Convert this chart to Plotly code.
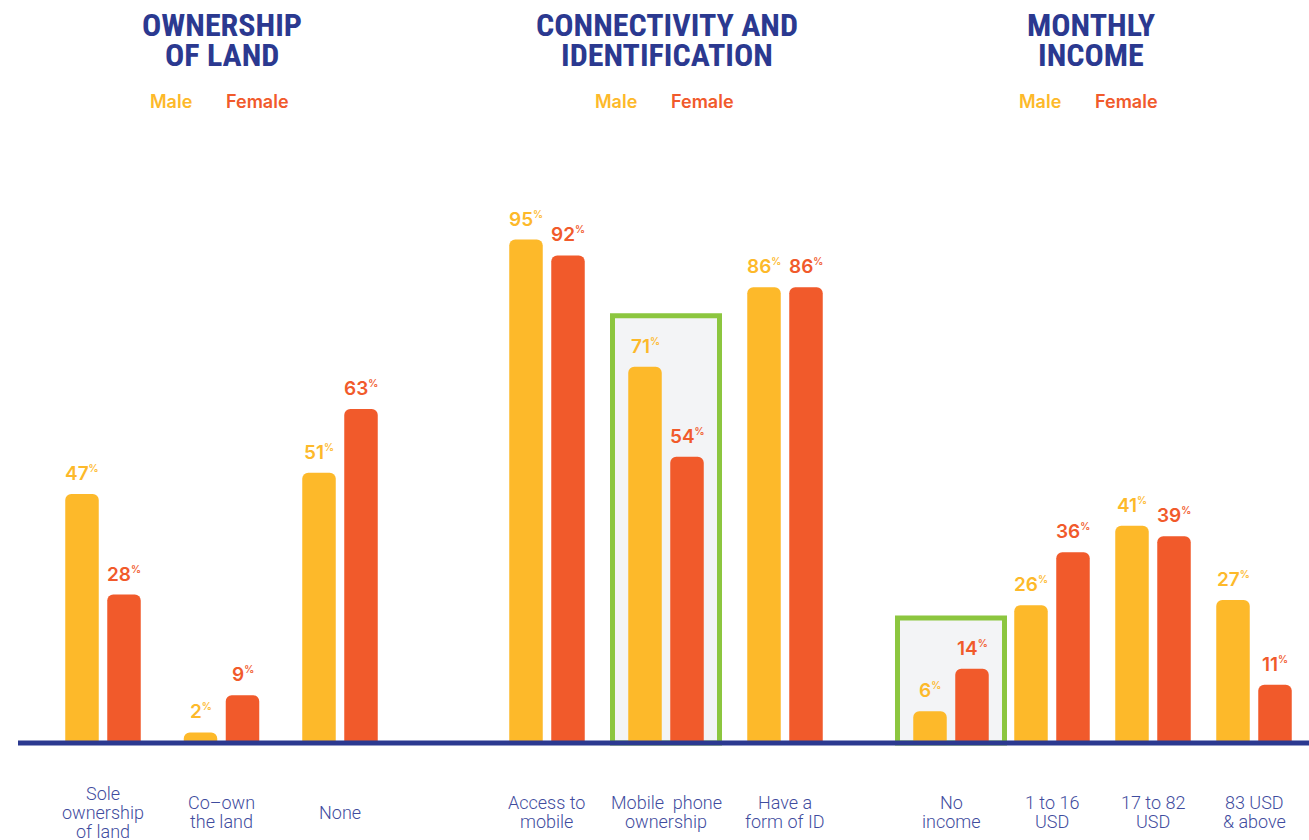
import plotly.graph_objects as go

# ---- data -------------------------------------------------------------
land_categories = ["Sole ownership of land", "Co-own the land", "None"]
land_labels = [["Sole", "ownership", "of land"], ["Co–own", "the land"], ["None"]]
land_male = [47, 2, 51]
land_female = [28, 9, 63]

conn_categories = ["Access to mobile", "Mobile phone ownership", "Have a form of ID"]
conn_labels = [["Access to", "mobile"], ["Mobile  phone", "ownership"], ["Have a", "form of ID"]]
conn_male = [95, 71, 86]
conn_female = [92, 54, 86]

income_categories = ["No income", "1 to 16 USD", "17 to 82 USD", "83 USD & above"]
income_labels = [["No", "income"], ["1 to 16", "USD"], ["17 to 82", "USD"], ["83 USD", "& above"]]
income_male = [6, 26, 41, 27]
income_female = [14, 36, 39, 11]

series_names = ["Male", "Female"]

# ---- styling ----------------------------------------------------------
W, H = 1309, 840
BASE_PX = 743          # pixel row of the zero line
UNIT_PX = 5.3          # pixels per percentage point
BELOW_PX = 8           # plot area kept below the zero line so the baseline is not clipped
YELLOW = "#fdb92a"
ORANGE = "#f15a2b"
NAVY = "#2b3990"
LABEL_BLUE = "#3f4c9e"
GREEN = "#8cc63f"
BOX_FILL = "#f3f4f6"
BAR_PX = 33.5          # bar width in pixels
SLOT_PX = 42           # distance between male and female bar centres
BOX_HALF_PX = 53.5     # half width of highlight frame
PAD = 0.2              # extra category room on each side of a group

Y_TOP = 100
Y_BOTTOM = -BELOW_PX / UNIT_PX
PLOT_TOP_PX = BASE_PX - Y_TOP * UNIT_PX
PLOT_BOTTOM_PX = BASE_PX + BELOW_PX
PLOT_H = PLOT_BOTTOM_PX - PLOT_TOP_PX

groups = [
    dict(title=["OWNERSHIP", "OF LAND"], cats=land_categories, labels=land_labels,
         male=land_male, female=land_female, highlight=None,
         centre_span_px=(103, 340), title_px=222),
    dict(title=["CONNECTIVITY AND", "IDENTIFICATION"], cats=conn_categories, labels=conn_labels,
         male=conn_male, female=conn_female, highlight="Mobile phone ownership",
         centre_span_px=(547, 785), title_px=667),
    dict(title=["MONTHLY", "INCOME"], cats=income_categories, labels=income_labels,
         male=income_male, female=income_female, highlight="No income",
         centre_span_px=(951, 1254), title_px=1091),
]


def px_x(p):
    return p / W


def px_y(p):
    return (PLOT_BOTTOM_PX - p) / PLOT_H


fig = go.Figure()
annotations = []
shapes = []
label_font = dict(family="Inter, Roboto, sans-serif", size=19, weight=600)

for gi, g in enumerate(groups):
    suffix = "" if gi == 0 else str(gi + 1)
    xref = "x" + suffix
    n = len(g["cats"])
    first_px, last_px = g["centre_span_px"]
    step = (last_px - first_px) / (n - 1)        # pixels per category
    pad_l = PAD
    pad_r = min(PAD + 0.5, (W - last_px) / step) - 0.5
    x_lo, x_hi = -0.5 - pad_l, n - 0.5 + pad_r
    dom = [px_x(first_px + x_lo * step), px_x(first_px + x_hi * step)]
    width = BAR_PX / step
    for si, (name, vals, color) in enumerate(
            [(series_names[0], g["male"], YELLOW), (series_names[1], g["female"], ORANGE)]):
        centre = (-SLOT_PX / 2 if si == 0 else SLOT_PX / 2)
        fig.add_trace(go.Bar(
            x=g["cats"], y=vals, name=name, marker=dict(color=color, line=dict(width=0)),
            width=width, offset=(centre - BAR_PX / 2) / step,
            xaxis=xref, yaxis="y", showlegend=False, hoverinfo="skip",
        ))
        for c, v in zip(g["cats"], vals):
            annotations.append(dict(
                x=c, y=v, xref=xref, yref="y", xshift=centre, yshift=7,
                yanchor="bottom", xanchor="center", showarrow=False,
                text=f"{v}<sup><span style='font-size:10px'>%</span></sup>",
                font=dict(label_font, color=color),
            ))

    # category labels under the axis, one line per annotation
    for c, lines in zip(g["cats"], g["labels"]):
        k = len(lines)
        for li, line in enumerate(lines):
            annotations.append(dict(
                x=c, xref=xref, y=px_y(812 + (li - (k - 1) / 2) * 19), yref="paper",
                yanchor="middle", xanchor="center", showarrow=False, text=line,
                font=dict(family="Roboto, sans-serif", size=18, weight=300, color=LABEL_BLUE),
            ))

    # group heading
    for li, line in enumerate(g["title"]):
        annotations.append(dict(
            x=px_x(g["title_px"]), xref="paper", y=px_y(25 + li * 30), yref="paper",
            yanchor="middle", xanchor="center", showarrow=False, text=line,
            font=dict(family="Liberation Sans Narrow, Roboto Condensed, Roboto, sans-serif",
                      size=32, weight=700, color=NAVY),
        ))
    gap_c = g["title_px"] - 12
    annotations.append(dict(
        x=px_x(gap_c - 16), xref="paper", y=px_y(101), yref="paper", xanchor="right",
        yanchor="middle", showarrow=False, text=series_names[0],
        font=dict(family="Inter, Roboto, sans-serif", size=18, weight=600, color=YELLOW)))
    annotations.append(dict(
        x=px_x(gap_c + 14), xref="paper", y=px_y(101), yref="paper", xanchor="left",
        yanchor="middle", showarrow=False, text=series_names[1],
        font=dict(family="Inter, Roboto, sans-serif", size=18, weight=600, color=ORANGE)))

    # highlight frame around one category
    if g["highlight"]:
        i = g["cats"].index(g["highlight"])
        half = BOX_HALF_PX / step
        top = max(g["male"][i], g["female"][i]) + 9.6
        shapes.append(dict(
            type="rect", xref=xref, yref="y", x0=i - half, x1=i + half, y0=0, y1=top,
            line=dict(color=GREEN, width=5), fillcolor=BOX_FILL, layer="below",
        ))

    axis = dict(domain=dom, anchor="y", range=[x_lo, x_hi], showgrid=False, zeroline=False,
                showticklabels=False, showline=False, ticks="", fixedrange=True,
                type="category")
    fig.update_layout(**{"xaxis" + suffix: axis})

# baseline
shapes.append(dict(type="line", xref="paper", yref="y", x0=px_x(18), x1=1, y0=0, y1=0,
                   line=dict(color=NAVY, width=5), layer="above"))

fig.update_layout(
    width=W, height=H,
    margin=dict(l=0, r=0, t=PLOT_TOP_PX, b=H - PLOT_BOTTOM_PX, pad=0),
    yaxis=dict(range=[Y_BOTTOM, Y_TOP], domain=[0, 1], anchor="x", showgrid=False,
               zeroline=False, showticklabels=False, showline=False, ticks="",
               fixedrange=True),
    barmode="overlay", barcornerradius=6,
    paper_bgcolor="white", plot_bgcolor="white",
    annotations=annotations, shapes=shapes,
)

fig.write_html("out.html")
